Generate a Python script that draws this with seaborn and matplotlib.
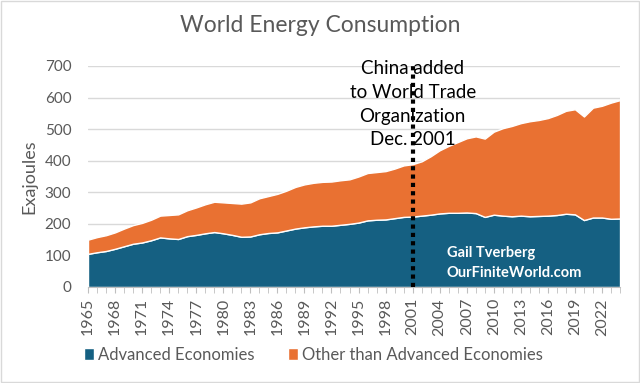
import seaborn as sns
import pandas as pd
import matplotlib.pyplot as plt
from matplotlib.patches import Patch, Rectangle

# World energy consumption, exajoules
years = list(range(1965, 2025))
advanced = [105, 110, 114, 121, 129, 137, 141, 148, 157, 154,
            152, 161, 165, 170, 174, 170, 165, 159, 160, 167,
            171, 173, 179, 185, 189, 192, 194, 194, 197, 200,
            204, 211, 213, 214, 218, 222, 223, 226, 229, 233,
            235, 235, 236, 234, 222, 229, 226, 224, 226, 224,
            225, 226, 228, 232, 230, 212, 220, 220, 216, 217]
world_total = [150, 158, 164, 173, 185, 196, 203, 213, 226, 228,
               230, 243, 252, 262, 270, 268, 266, 264, 268, 281,
               288, 295, 305, 317, 325, 330, 333, 334, 338, 341,
               350, 361, 364, 367, 375, 385, 389, 398, 414, 433,
               447, 459, 471, 477, 470, 492, 503, 510, 519, 525,
               529, 535, 545, 558, 563, 540, 568, 574, 584, 592]
series_names = ['Advanced Economies', 'Other than Advanced Economies']
tick_years = list(range(1965, 2023, 3))

df = pd.DataFrame({'year': years, 'advanced': advanced, 'total': world_total})
df['other'] = df['total'] - df['advanced']

sns.set_style('white')
plt.rcParams['font.family'] = ['Lato', 'DejaVu Sans']

blue = '#156082'
orange = '#E97132'
grey = '#595959'

fig = plt.figure(figsize=(6.4, 3.83), dpi=100)
ax = fig.add_axes([0.1375, 0.2507, 0.8313, 0.577])

ax.stackplot(df['year'], df['advanced'], df['other'], colors=[blue, orange], zorder=2)

ax.set_xlim(1965, 2024)
ax.set_ylim(0, 700)
ax.set_yticks(range(0, 701, 100))
ax.yaxis.grid(True, color='#d9d9d9', linewidth=1, zorder=0)
ax.set_axisbelow(True)
sns.despine(ax=ax, left=True, top=True, right=True)
ax.spines['bottom'].set_color('#bfbfbf')

ax.set_xticks(tick_years)
ax.set_xticklabels([str(y) for y in tick_years], rotation=90)
ax.set_xticks(years, minor=True)
ax.tick_params(axis='x', which='both', direction='out', length=4, color='#bfbfbf',
               bottom=True, labelsize=11.5, labelcolor=grey, pad=4)
ax.tick_params(axis='y', length=0, labelsize=11, labelcolor=grey, pad=12)
ax.set_ylabel('Exajoules', fontsize=13, color=grey, labelpad=5)

fig.suptitle('World Energy Consumption', x=0.5, y=0.96, fontsize=16.5, color=grey)

# China joins WTO
ax.plot([2001, 2001], [0, 712], color='black', linestyle=(0, (1, 1)), linewidth=3,
        zorder=5, clip_on=False)
ax.text(2001, 718, 'China added\nto World Trade\nOrganization\nDec. 2001', ha='center', va='top',
        fontsize=13.5, color='black', linespacing=1.48, zorder=4)

ax.text(2004.8, 130, 'Gail Tverberg\nOurFiniteWorld.com', ha='left', va='top',
        fontsize=10.5, color='white', fontweight='bold', linespacing=1.55, zorder=6)

handles = [Patch(facecolor=blue), Patch(facecolor=orange)]
fig.legend(handles, series_names, loc='center', bbox_to_anchor=(0.49, 0.073), ncol=2,
           frameon=False, handlelength=0.6, handleheight=0.7, handletextpad=0.25,
           columnspacing=2.0, fontsize=12, labelcolor=grey)

fig.patches.append(Rectangle((0.002, 0.003), 0.996, 0.994, transform=fig.transFigure,
                             fill=False, edgecolor='#d9d9d9', linewidth=1))

fig.savefig('out.png', dpi=100)
